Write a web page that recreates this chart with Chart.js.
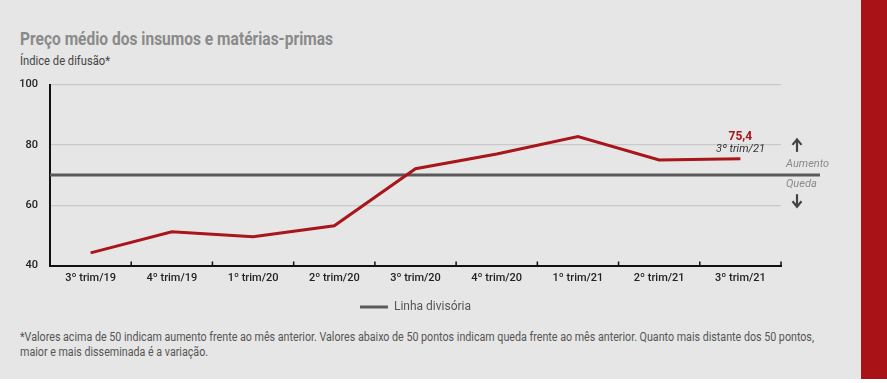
<!DOCTYPE html>
<html>
<head>
<meta charset="utf-8">
<script src="https://cdn.jsdelivr.net/npm/chart.js@4"></script>
<style>
  html,body{margin:0;padding:0;background:#ffffff;}
  body{width:887px;height:383px;position:relative;overflow:hidden;}
  #panel{position:absolute;left:0;top:0;width:861px;height:379px;background:#e6e6e6;}
  #redbar{position:absolute;left:861px;top:0;width:26px;height:379px;background:#a91318;}
  .txt{position:absolute;white-space:nowrap;transform-origin:0 0;line-height:1;}
  #title{left:20px;top:28px;font:bold 18px "Liberation Sans Narrow","Roboto",sans-serif;color:#8a8a8a;}
  #subtitle{left:20px;top:53px;font:13px "Liberation Sans Narrow","Roboto",sans-serif;color:#444;}
  .foot{left:20px;font:12px "Liberation Sans Narrow","Roboto",sans-serif;color:#555;}
  #f1{top:330px;}
  #f2{top:345px;}
  #wrap{position:absolute;left:0;top:66px;width:861px;height:257px;}
</style>
</head>
<body>
<div id="panel"></div>
<div id="redbar"></div>
<div id="title" class="txt">Preço médio dos insumos e matérias-primas</div>
<div id="subtitle" class="txt">Índice de difusão*</div>
<div id="f1" class="txt foot">*Valores acima de 50 indicam aumento frente ao mês anterior. Valores abaixo de 50 pontos indicam queda frente ao mês anterior. Quanto mais distante dos 50 pontos,</div>
<div id="f2" class="txt foot">maior e mais disseminada é a variação.</div>
<div id="wrap"><canvas id="c"></canvas></div>
<script>
// ---- data ----
const categories = ['3º trim/19','4º trim/19','1º trim/20','2º trim/20','3º trim/20','4º trim/20','1º trim/21','2º trim/21','3º trim/21'];
const values = [44.2, 51.2, 49.5, 53.2, 72.1, 77.0, 82.8, 75.0, 75.4];
const divisor = 70;
const yMin = 40, yMax = 100, yStep = 20;
const lastLabel = '75,4';
const lastSub = '3º trim/21';
const upText = 'Aumento';
const downText = 'Queda';
const legendText = 'Linha divisória';

// ---- text fitting ----
function fit(id, target){
  const el = document.getElementById(id);
  const w = el.getBoundingClientRect().width;
  const s = target / w;
  el.style.transform = 'scaleX(' + s + ')';
  return s;
}
fit('title', 313);
fit('subtitle', 90);
const fs = fit('f1', 794);
document.getElementById('f2').style.transform = 'scaleX(' + fs + ')';

const RED = '#a8161b';
const DIV = '#5a5a5a';

const extras = {
  id: 'extras',
  beforeDatasetsDraw(chart){
    const {ctx, chartArea:a, scales:{x,y}} = chart;
    const yp = y.getPixelForValue(divisor);
    ctx.save();
    ctx.strokeStyle = DIV; ctx.lineWidth = 3;
    ctx.beginPath(); ctx.moveTo(a.left, yp); ctx.lineTo(a.right + 39, yp); ctx.stroke();
    // inner tick marks on x axis at category boundaries
    const step = x.getPixelForValue(1) - x.getPixelForValue(0);
    ctx.strokeStyle = '#111'; ctx.lineWidth = 1.5;
    for (let i = 0; i <= categories.length; i++){
      const xp = x.getPixelForValue(0) - step/2 + i*step;
      ctx.beginPath(); ctx.moveTo(xp, a.bottom); ctx.lineTo(xp, a.bottom - 4); ctx.stroke();
    }
    ctx.restore();
  },
  afterDraw(chart){
    const {ctx, chartArea:a, scales:{x,y}} = chart;
    const yp = y.getPixelForValue(divisor);
    const ax = a.right + 16;
    ctx.save();
    // arrows
    ctx.strokeStyle = '#444'; ctx.fillStyle = '#444'; ctx.lineWidth = 2.2;
    const up1 = y.getPixelForValue(80) - 1;
    ctx.beginPath(); ctx.moveTo(ax, up1 + 8); ctx.lineTo(ax, up1 - 3); ctx.stroke();
    ctx.beginPath(); ctx.moveTo(ax - 4.5, up1 + 1); ctx.lineTo(ax, up1 - 4.5); ctx.lineTo(ax + 4.5, up1 + 1); ctx.stroke();
    const dn1 = y.getPixelForValue(60) - 5;
    ctx.beginPath(); ctx.moveTo(ax, dn1 - 6); ctx.lineTo(ax, dn1 + 6); ctx.stroke();
    ctx.beginPath(); ctx.moveTo(ax - 4.5, dn1 + 1); ctx.lineTo(ax, dn1 + 6.5); ctx.lineTo(ax + 4.5, dn1 + 1); ctx.stroke();
    // Aumento / Queda
    ctx.fillStyle = '#8a8a8a';
    ctx.font = 'italic 11px "Liberation Sans Narrow", Roboto, sans-serif';
    ctx.textAlign = 'left'; ctx.textBaseline = 'middle';
    ctx.fillText(upText, a.right + 5, yp - 10.5);
    ctx.fillText(downText, a.right + 5, yp + 9.5);
    // annotation of last point
    const li = values.length - 1;
    const lx = x.getPixelForValue(li);
    const ly = y.getPixelForValue(values[li]);
    ctx.textAlign = 'center';
    ctx.fillStyle = RED;
    ctx.font = 'bold 12px Roboto, sans-serif';
    ctx.fillText(lastLabel, lx, ly - 21.5);
    ctx.fillStyle = '#333';
    ctx.font = 'italic 11px Roboto, sans-serif';
    ctx.fillText(lastSub, lx, ly - 10);
    ctx.restore();
  }
};

new Chart(document.getElementById('c'), {
  type: 'line',
  data: {
    labels: categories,
    datasets: [
      { label: 'Preço médio', data: values, borderColor: RED, borderWidth: 3, pointRadius: 0, tension: 0, fill: false },
      { label: legendText, data: [], borderColor: DIV, backgroundColor: DIV, borderWidth: 0 }
    ]
  },
  options: {
    responsive: true,
    maintainAspectRatio: false,
    animation: false,
    layout: { padding: { top: 10.3, right: 80, left: 0, bottom: 0 } },
    plugins: {
      tooltip: { enabled: false },
      legend: {
        position: 'bottom',
        fullSize: false,
        labels: {
          font: { family: 'Roboto', size: 12 },
          color: '#555',
          padding: 15.5,
          generateLabels: () => [{ text: legendText, fillStyle: DIV, strokeStyle: DIV, lineWidth: 0, hidden: false, datasetIndex: 1, fontColor: '#555' }],
          boxWidth: 28,
          boxHeight: 3
        }
      }
    },
    scales: {
      x: {
        offset: true,
        grid: { display: false, drawTicks: false },
        border: { display: true, color: '#111', width: 2 },
        ticks: { color: '#222', font: { family: 'Roboto', size: 11, weight: '500' }, padding: 6, maxRotation: 0, autoSkip: false },
        afterFit: s => { s.height = 20; }
      },
      y: {
        min: yMin, max: yMax,
        grid: { drawTicks: false, color: c => (c.tick && c.tick.value === yMin) ? 'rgba(0,0,0,0)' : '#c9c9c9', lineWidth: 1.3 },
        border: { display: true, color: '#111', width: 2 },
        ticks: { stepSize: yStep, color: '#222', font: { family: 'Roboto', size: 11, weight: '500' }, padding: 12 },
        afterFit: s => { s.width = 50; }
      }
    }
  },
  plugins: [extras]
});
</script>
</body>
</html>
